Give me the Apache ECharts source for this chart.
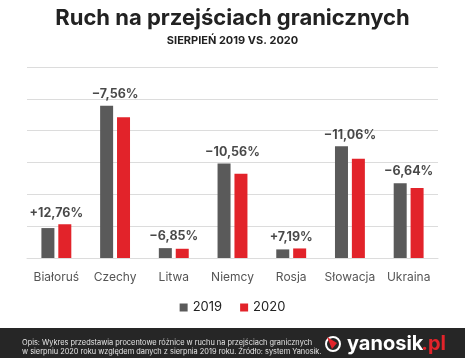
<!DOCTYPE html>
<html><head><meta charset="utf-8">
<script src="https://cdn.jsdelivr.net/npm/echarts@6/dist/echarts.min.js"></script>
<style>html,body{margin:0;padding:0;background:#fff}#c{width:465px;height:358px}</style>
</head><body><div id="c"></div>
<script>
var categories = ['Białoruś','Czechy','Litwa','Niemcy','Rosja','Słowacja','Ukraina'];
var values2019 = [0.94, 4.78, 0.31, 2.97, 0.27, 3.51, 2.35];
var values2020 = [1.06, 4.42, 0.29, 2.65, 0.30, 3.12, 2.20];
var changeLabels = ['+12,76%','−7,56%','−6,85%','−10,56%','+7,19%','−11,06%','−6,64%'];
var seriesNames = ['2019','2020'];

var FONT = 'Inter, Lato, sans-serif';
var labelPoints = categories.map(function(c,i){ return Math.max(values2019[i], values2020[i]); });

var chart = echarts.init(document.getElementById('c'), null, {renderer:'canvas'});
chart.setOption({
  animation:false,
  backgroundColor:'#fff',
  title:[
    {text:'Ruch na przejściach granicznych', left:'center', top:2,
     textStyle:{fontFamily:FONT, fontSize:22, fontWeight:'bold', color:'#222'}},
    {text:'SIERPIEŃ 2019 VS. 2020', left:'center', top:30,
     textStyle:{fontFamily:FONT, fontSize:11, fontWeight:'bold', color:'#222'}}
  ],
  grid:{left:27, right:27, top:67, bottom:100, containLabel:false},
  legend:{data:seriesNames, top:296, left:'center', itemWidth:8, itemHeight:8, itemGap:18,
    icon:'rect', textStyle:{fontFamily:FONT, fontSize:13, color:'#222'}},
  xAxis:{type:'category', data:categories,
    axisLine:{lineStyle:{color:'#dcdcdc'}}, axisTick:{show:false},
    axisLabel:{interval:0, margin:13, color:'#555', fontFamily:FONT, fontSize:12}},
  yAxis:{type:'value', min:0, max:6, interval:1, axisLabel:{show:false},
    axisLine:{show:false}, axisTick:{show:false},
    splitLine:{lineStyle:{color:'#dcdcdc'}}},
  series:[
    {name:seriesNames[0], type:'bar', data:values2019, barWidth:13, barGap:'30%',
     itemStyle:{color:'#5a5a5a'}},
    {name:seriesNames[1], type:'bar', data:values2020, barWidth:13,
     itemStyle:{color:'#e2232a'}},
    {name:'labels', type:'scatter', data:labelPoints, symbolSize:0, silent:true,
     label:{show:true, position:'top', distance:5,
       formatter:function(p){return changeLabels[p.dataIndex];},
       fontFamily:FONT, fontSize:12.5, fontWeight:'bold', color:'#1a1a1a'}}
  ],
  graphic:[
    {type:'rect', shape:{x:0,y:328,width:465,height:30}, style:{fill:'#262626'}},
    {type:'text', x:22, y:343, style:{text:'Opis: Wykres przedstawia procentowe różnice w ruchu na przejściach granicznych',
      fill:'#e6e6e6', fontFamily:FONT, fontSize:7.4, verticalAlign:'middle'}},
    {type:'text', x:22, y:351.5, style:{text:'w sierpniu 2020 roku względem danych z sierpnia 2019 roku. Źródło: system Yanosik.',
      fill:'#e6e6e6', fontFamily:FONT, fontSize:7.4, verticalAlign:'middle'}},
    {type:'circle', shape:{cx:333, cy:344, r:7}, style:{fill:'none', stroke:'#fff', lineWidth:2}},
    {type:'polygon', shape:{points:[[327,337],[337,343],[332,349]]}, style:{fill:'#e2232a'}},
    {type:'text', x:347, y:344, style:{text:'yanosik', fill:'#fff', fontFamily:FONT, fontSize:20, fontWeight:'bold', verticalAlign:'middle'}},
    {type:'text', x:446, y:344, style:{text:'.pl', fill:'#e2232a', fontFamily:FONT, fontSize:20, fontWeight:'bold', verticalAlign:'middle', align:'right'}}
  ]
});
</script></body></html>
